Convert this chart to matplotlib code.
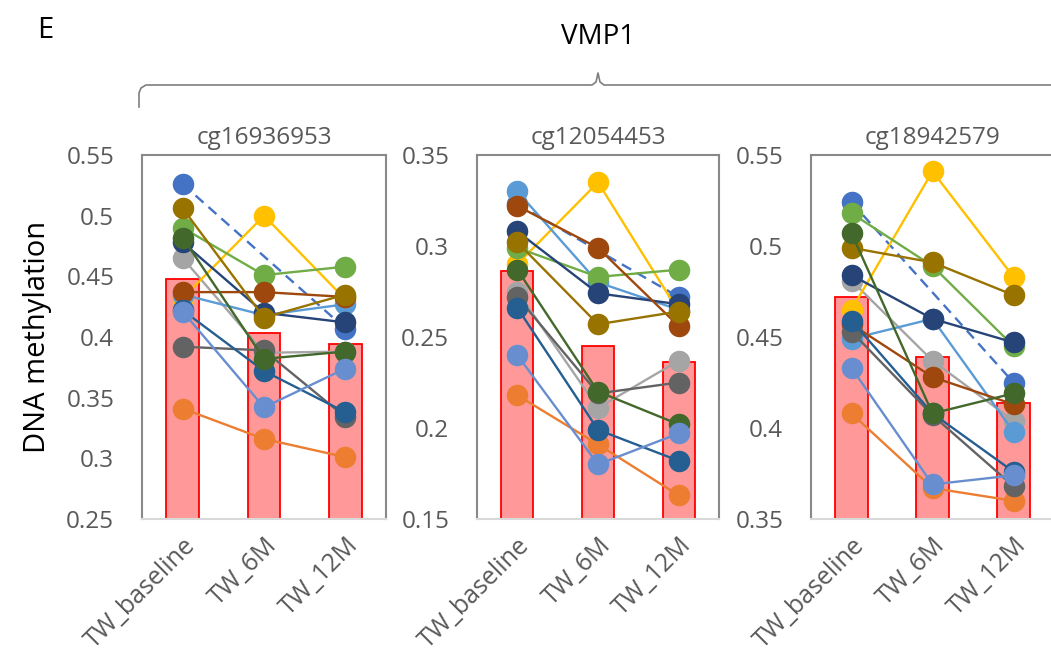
import matplotlib
matplotlib.use("Agg")
import matplotlib.pyplot as plt
from matplotlib.lines import Line2D
import numpy as np

plt.rcParams['font.family'] = ['Open Sans', 'DejaVu Sans']

nan = np.nan
timepoints = ['TW_baseline', 'TW_6M', 'TW_12M']
probes = ['cg16936953', 'cg12054453', 'cg18942579']

# one colour per subject (Excel office palette order)
colors = ['#4472C4', '#ED7D31', '#A5A5A5', '#FFC000', '#5B9BD5', '#70AD47',
          '#264478', '#9E480E', '#636363', '#997300', '#255E91', '#43682B',
          '#698ED0']

# subject values: baseline, 6M, 12M
cg16936953_vals = [
    [0.526, nan, 0.407],
    [0.341, 0.316, 0.301],
    [0.465, 0.387, 0.388],
    [0.432, 0.500, 0.431],
    [0.435, 0.418, 0.427],
    [0.490, 0.451, 0.458],
    [0.478, 0.420, 0.412],
    [0.437, 0.437, 0.433],
    [0.392, 0.389, 0.334],
    [0.506, 0.416, 0.435],
    [0.422, 0.372, 0.338],
    [0.482, 0.382, 0.388],
    [0.421, 0.342, 0.374],
]
cg12054453_vals = [
    [0.323, nan, 0.272],
    [0.218, 0.191, 0.163],
    [0.275, 0.211, 0.237],
    [0.290, 0.335, 0.264],
    [0.330, 0.280, 0.265],
    [0.299, 0.283, 0.287],
    [0.308, 0.274, 0.268],
    [0.322, 0.299, 0.256],
    [0.272, 0.219, 0.225],
    [0.302, 0.257, 0.264],
    [0.266, 0.199, 0.182],
    [0.287, 0.220, 0.202],
    [0.240, 0.180, 0.197],
]
cg18942579_vals = [
    [0.524, nan, 0.425],
    [0.408, 0.367, 0.360],
    [0.481, 0.437, 0.404],
    [0.465, 0.541, 0.483],
    [0.449, 0.460, 0.398],
    [0.518, 0.489, 0.445],
    [0.484, 0.460, 0.447],
    [0.457, 0.428, 0.413],
    [0.453, 0.407, 0.368],
    [0.499, 0.491, 0.473],
    [0.459, 0.408, 0.376],
    [0.507, 0.408, 0.419],
    [0.433, 0.369, 0.374],
]

# group means (bars)
cg16936953_mean = [0.448, 0.403, 0.394]
cg12054453_mean = [0.286, 0.245, 0.236]
cg18942579_mean = [0.472, 0.439, 0.414]

ylims = [(0.25, 0.55), (0.15, 0.35), (0.35, 0.55)]
yticks = [[0.25, 0.3, 0.35, 0.4, 0.45, 0.5, 0.55],
          [0.15, 0.2, 0.25, 0.3, 0.35],
          [0.35, 0.4, 0.45, 0.5, 0.55]]
yticklabels = [['0.25', '0.3', '0.35', '0.4', '0.45', '0.5', '0.55'],
               ['0.15', '0.2', '0.25', '0.3', '0.35'],
               ['0.35', '0.4', '0.45', '0.5', '0.55']]

W, H = 1051, 654
fig = plt.figure(figsize=(W / 100, H / 100), dpi=100)

panel_px = [(142, 244), (477, 242), (811, 243)]
top_px, bot_px = 155, 519
all_vals = [cg16936953_vals, cg12054453_vals, cg18942579_vals]
all_means = [cg16936953_mean, cg12054453_mean, cg18942579_mean]
txtgray = '#595959'
fs = 17.5

x = np.arange(3)
for k in range(3):
    l, w = panel_px[k]
    ax = fig.add_axes([l / W, 1 - bot_px / H, w / W, (bot_px - top_px) / H])
    ax.bar(x, all_means[k], width=0.4, color='#FF9999', edgecolor='#FF0000',
           linewidth=1.3, zorder=1)
    for i, row in enumerate(all_vals[k]):
        row = np.array(row)
        ok = ~np.isnan(row)
        ls = '--' if i == 0 else '-'
        ax.plot(x[ok], row[ok], color=colors[i], ls=ls, lw=1.7,
                marker='o', ms=15.5, mec=colors[i], mew=0, zorder=2 + i,
                dashes=(4.5, 2.8) if i == 0 else (None, None))
    ax.set_xlim(-0.5, 2.5)
    ax.set_ylim(*ylims[k])
    ax.set_yticks(yticks[k])
    ax.set_yticklabels(yticklabels[k])
    ax.set_xticks(x)
    ax.set_xticklabels(timepoints, rotation=45, ha='right',
                       rotation_mode='anchor')
    ax.tick_params(axis='y', length=0, pad=20, labelsize=fs,
                   labelcolor=txtgray)
    ax.tick_params(axis='x', length=0, pad=10, labelsize=fs + 0.5,
                   labelcolor=txtgray)
    for s in ['left', 'top', 'right']:
        ax.spines[s].set_color('#898989')
        ax.spines[s].set_linewidth(1.5)
    ax.spines['bottom'].set_color('#D9D9D9')
    ax.spines['bottom'].set_linewidth(1.5)
    ax.set_title(probes[k], color=txtgray, fontsize=fs, pad=8)
    if k == 0:
        ax.set_ylabel('DNA methylation', fontsize=21, color='black',
                      labelpad=10)

# curly bracket above the panels
bx = [139, 139, 141, 146, 592, 596, 598, 600, 604, 1051]
by = [107, 93, 88, 85, 85, 82, 73, 82, 85, 85]
fig.add_artist(Line2D([v / W for v in bx], [1 - v / H for v in by],
                      transform=fig.transFigure, color='#7F7F7F', lw=1.2))

fig.text(45 / W, 1 - 30 / H, 'E', fontsize=21, ha='center', va='center')
fig.text(598 / W, 1 - 37 / H, 'VMP1', fontsize=20, ha='center', va='center')

fig.savefig('out.png', dpi=100)
